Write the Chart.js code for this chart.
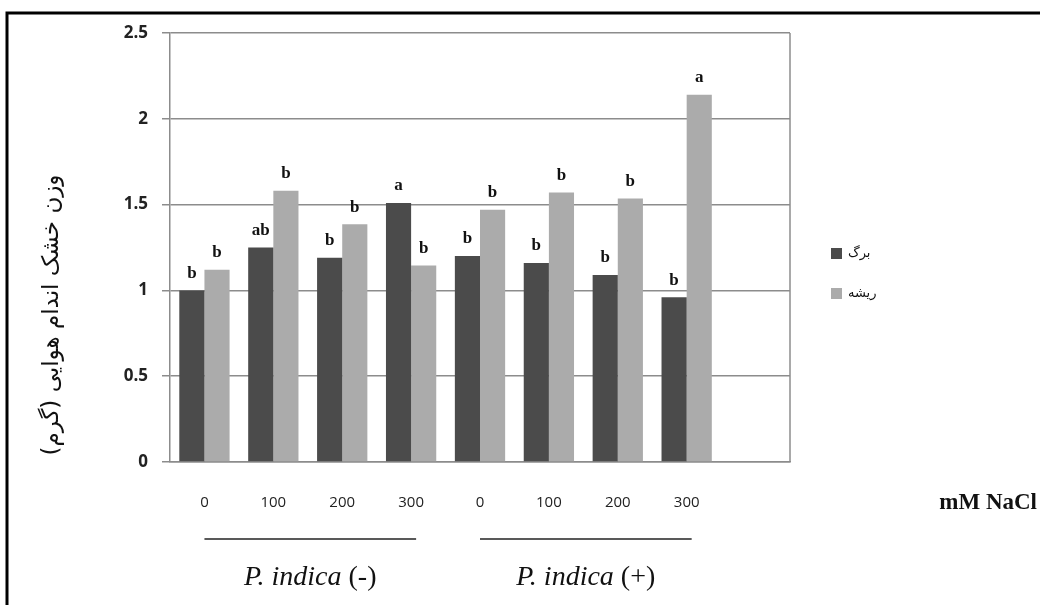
<!DOCTYPE html>
<html><head><meta charset="utf-8">
<script src="https://cdn.jsdelivr.net/npm/chart.js@4/dist/chart.umd.min.js"></script>
<style>html,body{margin:0;padding:0;background:#fff}canvas{display:block}</style>
</head><body>
<canvas id="c" width="1040" height="605"></canvas>
<script>
const categories = ['0','100','200','300','0','100','200','300',''];
const leafValues = [1.00,1.25,1.19,1.51,1.20,1.16,1.09,0.96,null];
const rootValues = [1.12,1.58,1.385,1.145,1.47,1.57,1.535,2.14,null];
const leafLetters = ['b','ab','b','a','b','b','b','b'];
const rootLetters = ['b','b','b','b','b','b','b','a'];
const seriesNames = ['برگ','ریشه'];
const groupNames = [['P. indica','(-)'],['P. indica','(+)']];
const groupRanges = [[0,3],[4,7]];
const yTicks = [0,0.5,1,1.5,2,2.5];
const yTitle = 'وزن خشک اندام هوایی (گرم)';
const xTitle = 'mM NaCl';

const DARK = '#4b4b4b', LIGHT = '#ababab', GRID = '#8c8c8c';

const extras = {
  id: 'extras',
  afterDraw(chart) {
    const ctx = chart.ctx, ca = chart.chartArea, xs = chart.scales.x;
    ctx.save();
    // right border of plot
    ctx.strokeStyle = GRID; ctx.lineWidth = 1.5;
    ctx.beginPath(); ctx.moveTo(ca.right, ca.top); ctx.lineTo(ca.right, ca.bottom); ctx.stroke();
    // letters
    ctx.fillStyle = '#111'; ctx.textAlign = 'center'; ctx.textBaseline = 'middle';
    ctx.font = 'bold 17px "Liberation Serif"';
    [leafLetters, rootLetters].forEach((letters, di) => {
      const meta = chart.getDatasetMeta(di);
      letters.forEach((t, i) => {
        const el = meta.data[i];
        ctx.fillText(t, el.x, el.y - 17);
      });
    });
    // group lines and names
    ctx.strokeStyle = '#222'; ctx.lineWidth = 1.5;
    groupRanges.forEach((r, gi) => {
      const x0 = xs.getPixelForValue(r[0]);
      const x1 = xs.getPixelForValue(r[1]) + 5;
      ctx.beginPath(); ctx.moveTo(x0, 539); ctx.lineTo(x1, 539); ctx.stroke();
      const cx = (x0 + x1) / 2;
      ctx.font = 'italic 28px "Liberation Serif"';
      const w1 = ctx.measureText(groupNames[gi][0] + ' ').width;
      ctx.font = '28px "Liberation Serif"';
      const w2 = ctx.measureText(groupNames[gi][1]).width;
      const sx = cx - (w1 + w2) / 2;
      ctx.textAlign = 'left'; ctx.textBaseline = 'alphabetic';
      ctx.font = 'italic 28px "Liberation Serif"';
      ctx.fillText(groupNames[gi][0] + ' ', sx, 585);
      ctx.font = '28px "Liberation Serif"';
      ctx.fillText(groupNames[gi][1], sx + w1, 585);
    });
    // x title
    ctx.font = 'bold 23px "Liberation Serif"';
    ctx.textAlign = 'right'; ctx.textBaseline = 'middle';
    ctx.fillText(xTitle, 1037, 503);
    // y title
    ctx.save();
    ctx.translate(52, 315); ctx.rotate(-Math.PI / 2);
    ctx.direction = 'rtl';
    ctx.font = '23px "DejaVu Sans"'; ctx.textAlign = 'center'; ctx.textBaseline = 'middle';
    ctx.fillStyle = '#111';
    ctx.fillText(yTitle, 0, 0);
    ctx.restore();
    // legend
    const cols = [DARK, LIGHT];
    seriesNames.forEach((n, i) => {
      const y = 248 + i * 40;
      ctx.fillStyle = cols[i];
      ctx.fillRect(831, y, 11, 11);
      ctx.fillStyle = '#111';
      ctx.direction = 'rtl';
      ctx.font = '13px "DejaVu Sans"'; ctx.textAlign = 'left'; ctx.textBaseline = 'middle';
      ctx.fillText(n, 848, y + 6);
      ctx.direction = 'ltr';
    });
    // outer border
    ctx.strokeStyle = '#000'; ctx.lineWidth = 3;
    ctx.beginPath(); ctx.moveTo(7, 605); ctx.lineTo(7, 13); ctx.lineTo(1040, 13); ctx.stroke();
    ctx.restore();
  }
};

new Chart(document.getElementById('c'), {
  type: 'bar',
  data: {
    labels: categories,
    datasets: [
      { label: seriesNames[0], data: leafValues, backgroundColor: DARK },
      { label: seriesNames[1], data: rootValues, backgroundColor: LIGHT }
    ]
  },
  options: {
    responsive: false, animation: false,
    categoryPercentage: 0.73, barPercentage: 1,
    layout: { padding: { top: 33, right: 250, left: 0, bottom: 0 } },
    plugins: { legend: { display: false }, tooltip: { enabled: false } },
    scales: {
      x: {
        grid: { display: true, drawOnChartArea: false, drawTicks: false },
        border: { display: true, color: GRID, width: 1.5 },
        ticks: { font: { family: 'Open Sans', size: 15 }, color: '#222', padding: 32, maxRotation: 0, autoSkip: false },
        afterFit(s) { s.height = 143; }
      },
      y: {
        min: 0, max: 2.5,
        afterBuildTicks(s) { s.ticks = yTicks.map(v => ({ value: v })); },
        grid: { color: GRID, lineWidth: 1.5, tickLength: 8 },
        border: { display: true, color: GRID, width: 1.5 },
        ticks: { font: { family: 'Open Sans', size: 17, weight: 'bold' }, color: '#222', padding: 14,
                 callback: v => String(v) },
        afterFit(s) { s.width = 170; }
      }
    }
  },
  plugins: [extras]
});
</script>
</body></html>
